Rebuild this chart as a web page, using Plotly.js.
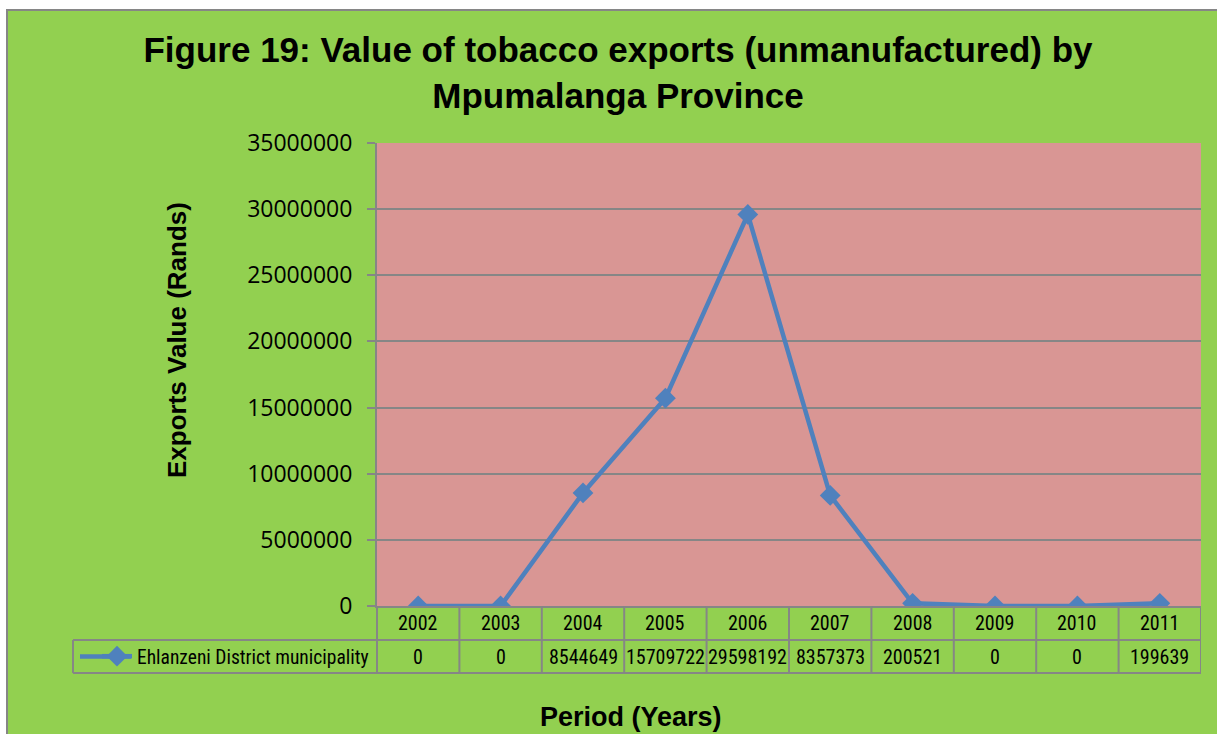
<!DOCTYPE html>
<html><head><meta charset="utf-8">
<script src="https://cdn.plot.ly/plotly-3.0.1.min.js"></script>
<style>html,body{margin:0;padding:0;background:#fff;}#chart{width:1217px;height:734px;}</style>
</head><body><div id="chart"></div>
<script>
const years = ['2002','2003','2004','2005','2006','2007','2008','2009','2010','2011'];
const values = [0, 0, 8544649, 15709722, 29598192, 8357373, 200521, 0, 0, 199639];
const seriesName = 'Ehlanzeni District municipality';
const titleText = 'Figure 19: Value of tobacco exports (unmanufactured) by<br>Mpumalanga Province';
const yTitle = 'Exports Value (Rands)';
const xTitle = 'Period (Years)';

const W = 1217, H = 734, L = 377, R = 1201, T = 143, B = 606;
const px = p => (p - L) / (R - L);
const py = p => (B - p) / (B - T);
const GRAY = '#868686', GREEN = '#92D050', PINK = '#D99694', BLUE = '#4F81BD';
const narrow = 'Liberation Sans Narrow, Arial Narrow, Roboto Condensed, sans-serif';
const arial = 'Liberation Sans, Arial, sans-serif';

const shapes = [
  {type:'rect', xref:'paper', yref:'paper', layer:'below', x0:px(7), x1:px(W+20), y0:py(H+20), y1:py(10),
   fillcolor:GREEN, line:{color:GRAY, width:2}},
  {type:'rect', xref:'paper', yref:'paper', layer:'below', x0:0, x1:1, y0:0, y1:1,
   fillcolor:PINK, line:{width:0}},
  {type:'line', xref:'paper', yref:'paper', x0:px(73), x1:1, y0:py(640), y1:py(640), line:{color:GRAY, width:2}},
  {type:'line', xref:'paper', yref:'paper', x0:px(73), x1:1, y0:py(673), y1:py(673), line:{color:GRAY, width:2}},
  {type:'line', xref:'paper', yref:'paper', x0:px(73), x1:px(73), y0:py(640), y1:py(673), line:{color:GRAY, width:2}},
  {type:'line', xref:'paper', yref:'paper', x0:0, x1:0, y0:0, y1:py(673), line:{color:GRAY, width:2}},
  // legend key line extension
  {type:'line', xref:'paper', yref:'paper', x0:px(80), x1:px(131), y0:py(656.5), y1:py(656.5), line:{color:BLUE, width:4.5}}
];
years.forEach((y, i) => {
  shapes.push({type:'line', xref:'x', yref:'paper', x0:i+0.5, x1:i+0.5, y0:0, y1:py(673), line:{color:GRAY, width:2}});
});

const annotations = [
  {text:'<b>'+yTitle+'</b>', textangle:-90, xref:'paper', yref:'paper', x:px(177), y:py(340),
   xanchor:'center', yanchor:'middle', showarrow:false, font:{family:arial, size:26, color:'#000'}},
  {text:'<b>'+xTitle+'</b>', xref:'paper', yref:'paper', x:px(631), y:py(717),
   xanchor:'center', yanchor:'middle', showarrow:false, font:{family:arial, size:27, color:'#000'}}
];
years.forEach((yr, i) => {
  annotations.push({text:yr, xref:'x', yref:'paper', x:i, y:py(622.5), xanchor:'center', yanchor:'middle',
    showarrow:false, font:{family:narrow, size:20, color:'#000'}});
});
values.forEach((v, i) => {
  annotations.push({text:String(v), xref:'x', yref:'paper', x:i, y:py(656.5), xanchor:'center', yanchor:'middle',
    showarrow:false, font:{family:narrow, size:20, color:'#000'}});
});

const trace = {
  type:'scatter', mode:'lines+markers', x:years.map((_, i) => i), y:values, name:seriesName,
  line:{color:BLUE, width:4.5}, marker:{symbol:'diamond', size:16, color:BLUE}
};

const layout = {
  width:W, height:H, paper_bgcolor:'#ffffff', plot_bgcolor:'rgba(0,0,0,0)',
  margin:{l:L, r:W-R, t:T, b:H-B, pad:0},
  title:{text:'<b>'+titleText+'</b>', xref:'container', yref:'container', x:618/W, xanchor:'center',
    y:1-62/H, yanchor:'middle', font:{family:arial, size:35, color:'#000'}},
  xaxis:{range:[-0.5, 9.5], tickmode:'array', tickvals:years.map((_, i) => i), showticklabels:false,
    showgrid:false, zeroline:false, showline:true, linecolor:GRAY, linewidth:2, ticks:'', fixedrange:true},
  yaxis:{range:[0, 35000000], dtick:5000000, tickformat:'d', showgrid:true, gridcolor:GRAY, gridwidth:2,
    zeroline:false, showline:true, linecolor:GRAY, linewidth:2, ticks:'outside', ticklen:8, tickcolor:GRAY, tickwidth:2,
    tickfont:{family:'Open Sans, sans-serif', size:23, color:'#000'}, ticklabelstandoff:10, fixedrange:true},
  showlegend:true,
  legend:{x:px(97), xanchor:'left', y:py(656.5), yanchor:'middle', bgcolor:'rgba(0,0,0,0)',
    font:{family:narrow, size:19.5, color:'#000'}, itemwidth:30},
  shapes:shapes, annotations:annotations
};

Plotly.newPlot('chart', [trace], layout, {displayModeBar:false, staticPlot:true});
</script></body></html>
